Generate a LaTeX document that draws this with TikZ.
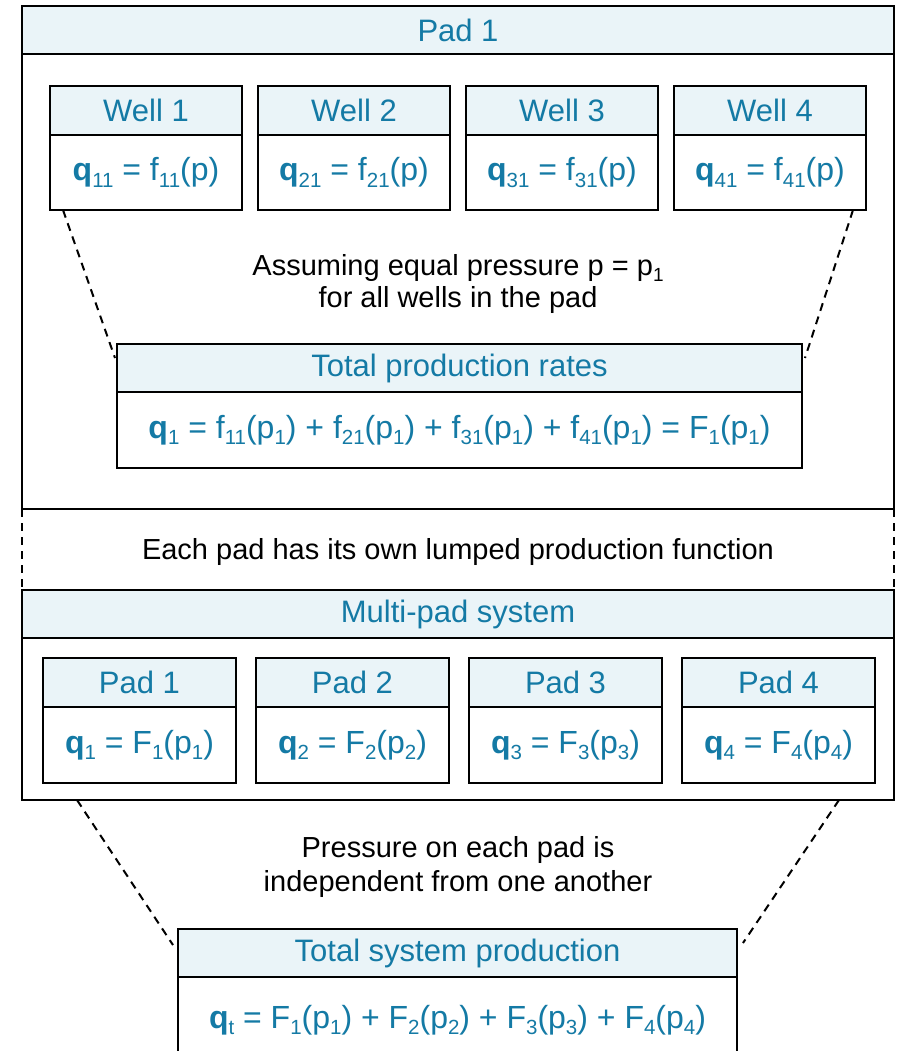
\documentclass[tikz,border=0pt]{standalone}
\usepackage{fontspec}
\setmainfont{Liberation Sans}
\definecolor{tc}{RGB}{20,122,165}
\definecolor{hf}{RGB}{234,244,248}
\newcommand\sbs[1]{\raisebox{-6.5pt}{\fontsize{20.5}{20.5}\selectfont #1}}
\newcommand\lsb[1]{\raisebox{-6pt}{\fontsize{19}{19}\selectfont #1}}
\newcommand\qb{\textbf{q}}
\begin{document}
\begin{tikzpicture}[x=1pt,y=-1pt,
  box/.style={draw=black, line width=2pt, inner sep=0pt, outer sep=0pt, anchor=north west, text=tc},
  hdr/.style={box, fill=hf, font=\fontsize{31}{36}\selectfont},
  bdy/.style={box, fill=white, font=\fontsize{32}{36}\selectfont},
  dsh/.style={draw=black, line width=2pt, dash pattern=on 8pt off 6pt},
  lbl/.style={font=\fontsize{29}{34}\selectfont, text=black, align=center}]
\useasboundingbox (0,0) rectangle (899,1051);
% Pad 1 outer box
\node[bdy, minimum width=872, minimum height=503] (padA) at (22,6) {};
\node[hdr, minimum width=872, minimum height=48] (padAh) at (22,6) {Pad 1};
% Multi-pad box
\node[bdy, minimum width=872, minimum height=210] (mp) at (22,590) {};
\node[hdr, minimum width=872, minimum height=48] (mph) at (22,590) {Multi-pad system};
\draw[dsh] (padA.south west) -- (mp.north west);
\draw[dsh] (padA.south east) -- (mp.north east);
\node[lbl] (mid) at (458,552) {Each pad has its own lumped production function};
% Wells
\foreach \i/\x in {1/50,2/258,3/466,4/674}{
  \node[hdr, minimum width=192, minimum height=49] (wh\i) at (\x,86) {Well \i};
  \node[bdy, minimum width=192, minimum height=75] (wb\i) at (\x,135) {\qb\sbs{\i1} = f\sbs{\i1}(p)};
}
\node[lbl, font=\fontsize{29}{32}\selectfont] (assume) at (458,284) {Assuming equal pressure p = p\lsb{1}\\for all wells in the pad};
% Total production rates
\node[hdr, minimum width=685, minimum height=48] (toth) at (117,344) {Total production rates};
\node[bdy, minimum width=685, minimum height=76] (totb) at (117,392)
  {\qb\sbs{1} = f\sbs{11}(p\sbs{1}) + f\sbs{21}(p\sbs{1}) + f\sbs{31}(p\sbs{1}) + f\sbs{41}(p\sbs{1}) = F\sbs{1}(p\sbs{1})};
\draw[dsh] ([xshift=13pt]wb1.south west) -- ([xshift=-2pt,yshift=-14pt]toth.north west);
\draw[dsh] ([xshift=-13pt]wb4.south east) -- ([xshift=3pt,yshift=-14pt]toth.north east);
% Pads
\foreach \i/\x in {1/43,2/256,3/469,4/682}{
  \node[hdr, minimum width=193, minimum height=49] (ph\i) at (\x,658) {Pad \i};
  \node[bdy, minimum width=193, minimum height=76] (pb\i) at (\x,707) {\qb\sbs{\i} = F\sbs{\i}(p\sbs{\i})};
}
\node[lbl] (press) at (458,867) {Pressure on each pad is\\independent from one another};
% Total system production
\node[hdr, minimum width=559, minimum height=48] (tsh) at (178,929) {Total system production};
\node[bdy, minimum width=559, minimum height=86] (tsb) at (178,977)
  {\qb\sbs{t} = F\sbs{1}(p\sbs{1}) + F\sbs{2}(p\sbs{2}) + F\sbs{3}(p\sbs{3}) + F\sbs{4}(p\sbs{4})};
\draw[dsh] ([xshift=55pt]mp.south west) -- ([xshift=-5pt,yshift=-16pt]tsh.north west);
\draw[dsh] ([xshift=-55pt]mp.south east) -- ([xshift=6pt,yshift=-14pt]tsh.north east);
\end{tikzpicture}
\end{document}
